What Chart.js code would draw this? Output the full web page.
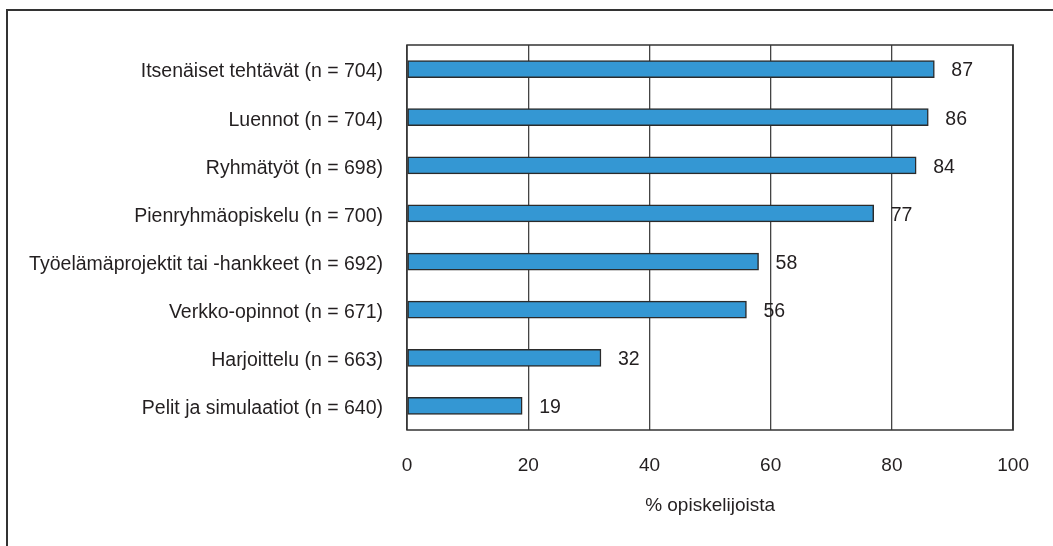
<!DOCTYPE html>
<html>
<head>
<meta charset="utf-8">
<script src="https://cdn.jsdelivr.net/npm/chart.js@4.4.1/dist/chart.umd.min.js"></script>
<style>
  html, body { margin:0; padding:0; background:#fff; }
  #wrap { position:relative; width:1053px; height:546px; }
  #frame { position:absolute; left:6px; top:9px; right:-10px; bottom:-10px; border-left:2px solid #333; border-top:2px solid #333; }
  canvas { position:absolute; left:0; top:0; }
</style>
</head>
<body>
<div id="wrap">
  <div id="frame"></div>
  <canvas id="chart" width="1053" height="546"></canvas>
</div>
<script>
// survey: share of students per teaching method
const categories = [
  'Itsenäiset tehtävät (n = 704)',
  'Luennot (n = 704)',
  'Ryhmätyöt (n = 698)',
  'Pienryhmäopiskelu (n = 700)',
  'Työelämäprojektit tai -hankkeet (n = 692)',
  'Verkko-opinnot (n = 671)',
  'Harjoittelu (n = 663)',
  'Pelit ja simulaatiot (n = 640)'
];
const shares = [87, 86, 84, 77, 58, 56, 32, 19];
const xTicks = [0, 20, 40, 60, 80, 100];
const xTitle = '% opiskelijoista';

const FONT = 'Liberation Sans, Arial, sans-serif';

// frame around the plot area
const frameBox = {
  id: 'frameBox',
  afterDraw(chart) {
    const a = chart.chartArea, ctx = chart.ctx;
    ctx.save();
    ctx.strokeStyle = '#333';
    ctx.lineWidth = 1.5;
    ctx.strokeRect(a.left, a.top, a.right - a.left, a.bottom - a.top);
    ctx.restore();
  }
};

// numbers right of each bar
const valueLabels = {
  id: 'valueLabels',
  afterDatasetsDraw(chart) {
    const ctx = chart.ctx;
    const meta = chart.getDatasetMeta(0);
    ctx.save();
    ctx.font = '19.5px ' + FONT;
    ctx.fillStyle = '#231f20';
    ctx.textAlign = 'left';
    ctx.textBaseline = 'middle';
    meta.data.forEach((bar, i) => {
      ctx.fillText(String(shares[i]), bar.x + 17, bar.y + 2);
    });
    ctx.restore();
  }
};

new Chart(document.getElementById('chart').getContext('2d'), {
  type: 'bar',
  data: {
    labels: categories,
    datasets: [{
      data: shares,
      backgroundColor: '#3497d3',
      borderColor: '#2b2b2b',
      borderWidth: 1.5,
      borderSkipped: false,
      barThickness: 17
    }]
  },
  options: {
    indexAxis: 'y',
    responsive: false,
    animation: false,
    layout: { padding: { top: 45, right: 39, bottom: 25, left: 0 } },
    plugins: { legend: { display: false }, tooltip: { enabled: false } },
    scales: {
      x: {
        min: 0, max: 100,
        afterBuildTicks: s => { s.ticks = xTicks.map(v => ({ value: v })); },
        afterFit: s => { s.height = 91; },
        grid: { color: '#444', lineWidth: 1.3, drawTicks: false },
        border: { display: false },
        ticks: { color: '#231f20', font: { family: FONT, size: 19 }, padding: 24 },
        title: { display: true, text: xTitle, color: '#231f20', font: { family: FONT, size: 19 }, padding: { top: 14 } }
      },
      y: {
        afterFit: s => { s.width = 407; },
        grid: { display: false, drawTicks: false },
        border: { display: false },
        ticks: { color: '#231f20', font: { family: FONT, size: 19.5 }, padding: 24, labelOffset: 3 }
      }
    }
  },
  plugins: [frameBox, valueLabels]
});
</script>
</body>
</html>
